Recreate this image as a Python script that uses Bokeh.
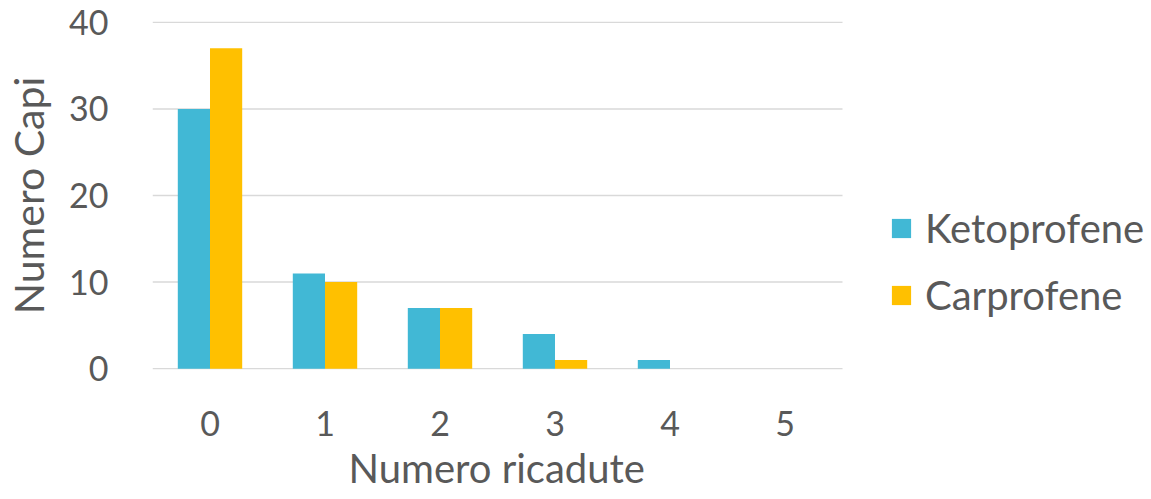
import numpy as np
from bokeh.plotting import figure
from bokeh.models import ColumnDataSource, Range1d, Legend, LegendItem, FixedTicker, Title
from bokeh.embed import file_html
from bokeh.resources import INLINE

categories = ["0", "1", "2", "3", "4", "5"]
ketoprofene = [30, 11, 7, 4, 1, 0]
carprofene = [37, 10, 7, 1, 0, 0]
y_ticks = [0, 10, 20, 30, 40]

FONT = "Lato"
TXT = "#595959"

n = len(categories)
idx = np.arange(n)
src = ColumnDataSource(dict(xk=idx - 0.14, xc=idx + 0.14, keto=ketoprofene, carp=carprofene))
grid_src = ColumnDataSource(dict(y=y_ticks, x0=[-0.5] * len(y_ticks), x1=[n - 0.5] * len(y_ticks)))

# frame: 115 px per category, extended to the right to host the legend
p = figure(width=1151, height=499, x_range=Range1d(-0.5, 8.187),
           y_range=Range1d(-0.1, 40.1), output_backend="svg", toolbar_location=None,
           min_border_left=152, min_border_right=0, min_border_top=21, min_border_bottom=130)
p.outline_line_color = None
p.xgrid.grid_line_color = None
p.ygrid.grid_line_color = None

p.segment(x0="x0", x1="x1", y0="y", y1="y", source=grid_src, line_color="#D9D9D9", line_width=1.5)

r1 = p.vbar(x="xk", top="keto", width=0.28, source=src, fill_color="#41B8D5", line_color=None)
r2 = p.vbar(x="xc", top="carp", width=0.28, source=src, fill_color="#FFC000", line_color=None)

p.yaxis.ticker = y_ticks
p.xaxis.ticker = FixedTicker(ticks=list(idx))
p.xaxis.major_label_overrides = {int(i): c for i, c in zip(idx, categories)}

for ax in (p.xaxis, p.yaxis):
    ax.axis_line_color = None
    ax.major_tick_line_color = None
    ax.minor_tick_line_color = None
    ax.major_label_text_font = FONT
    ax.major_label_text_color = TXT
    ax.major_label_text_font_size = "34px"
    ax.axis_label_text_font = FONT
    ax.axis_label_text_color = TXT
    ax.axis_label_text_font_style = "normal"

p.yaxis.axis_label = "Numero Capi"
p.yaxis.axis_label_text_font_size = "41px"
p.xaxis.major_label_standoff = 35
p.yaxis.major_label_standoff = 38
p.yaxis.axis_label_standoff = 13

xtitle = Title(text="Numero ricadute", align="left", offset=196, standoff=7,
               text_font=FONT, text_font_size="40px", text_font_style="normal",
               text_color=TXT)
p.add_layout(xtitle, "below")

legend = Legend(items=[LegendItem(label="Ketoprofene", renderers=[r1]),
                       LegendItem(label="Carprofene", renderers=[r2])],
                location=(737, 50), orientation="vertical",
                glyph_width=24, glyph_height=24, label_standoff=12, spacing=19,
                padding=0, margin=0, border_line_alpha=0, background_fill_alpha=0,
                label_text_font=FONT, label_text_color=TXT, label_text_font_size="40px")
p.add_layout(legend, "center")

open("out.html", "w").write(file_html(p, INLINE))
